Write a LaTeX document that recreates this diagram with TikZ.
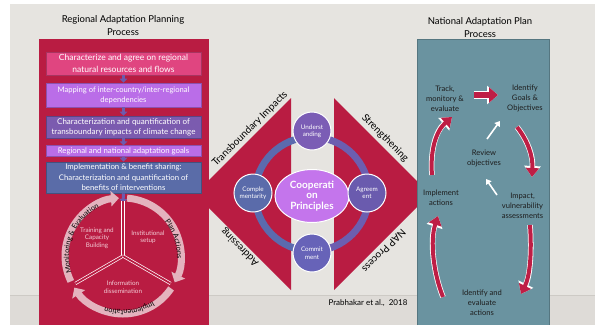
\documentclass[tikz,border=0pt]{standalone}
\usepackage{fontspec}
\setmainfont{Lato}
\usetikzlibrary{shapes.geometric,arrows.meta,decorations.text,calc}
\definecolor{bg}{HTML}{E6E4E0}
\definecolor{bgdark}{HTML}{DEDBD7}
\definecolor{bgline}{HTML}{CDCAC5}
\definecolor{crim}{HTML}{B91C42}
\definecolor{pinkbox}{HTML}{E04580}
\definecolor{lil}{HTML}{BA6DE8}
\definecolor{purp}{HTML}{7B5BAF}
\definecolor{steel}{HTML}{5A6CA8}
\definecolor{teal}{HTML}{6A93A0}
\definecolor{cycpink}{HTML}{E4B3BE}
\definecolor{cyctext}{HTML}{F2CBD5}
\definecolor{ringblue}{HTML}{5B6AAE}
\definecolor{ringpurp}{HTML}{6C5EB0}
\definecolor{arrowpurp}{HTML}{6D5AAE}
\definecolor{rarrow}{HTML}{BE1E45}
\definecolor{coopfill}{HTML}{C475EC}
\definecolor{darktext}{HTML}{1E1E1E}
\definecolor{cundr}{HTML}{7B5DB5}
\definecolor{ccomp}{HTML}{5A6BAA}
\definecolor{cagre}{HTML}{6A5BAE}
\definecolor{ccomm}{HTML}{6763B8}
\begin{document}
\begin{tikzpicture}[x=1pt,y=-1pt,
  lbox/.style={minimum width=155pt, inner sep=0pt, align=center, text=white, draw=#1!75!black, fill=#1, line width=0.6pt},
  circ/.style={circle, draw=white, line width=1pt, minimum size=38pt, inner sep=0pt, align=center, text=white, font=\fontsize{6.3}{7.5}\selectfont},
  ttl/.style={align=center, text=black, font=\fontsize{9.5}{13}\selectfont},
  dlab/.style={text=black, font=\fontsize{10}{12}\selectfont, inner sep=0pt},
  boxarrow/.style={draw=arrowpurp, line width=3pt, -{Triangle[width=7.5pt,length=4pt]}},
  cyc/.style={draw=cycpink, line width=7pt, -{Triangle[width=15pt,length=8pt]}},
  cyclab/.style={align=center, text=cyctext, font=\fontsize{6.3}{7.5}\selectfont},
  spoke/.style={draw=white, line width=0.7pt, double=crim, double distance=1.8pt},
  rtext/.style={align=center, text=darktext, font=\fontsize{7.6}{10}\selectfont},
  rarr/.style={draw=rarrow, line width=4pt, -{Triangle[width=13pt,length=9pt]},
     preaction={draw=white, line width=5.5pt, -{Triangle[width=16pt,length=11pt]}}},
  warr/.style={draw=white, line width=1.6pt, -{Triangle[width=6.5pt,length=5pt]}}
]
\useasboundingbox (0,0) rectangle (595,325);
% background
\fill[white] (0,0) rectangle (595,325);
\fill[bg] (10,4) rectangle (595,325);
\fill[bgdark] (10,295) rectangle (595,325);
\draw[bgline, line width=0.8pt] (10,295) -- (595,295);

% central diamond halves
\fill[crim] (291,98) -- (195,194) -- (291,290) -- cycle;
\fill[crim] (334,98) -- (430,194) -- (334,290) -- cycle;

% left panel
\fill[crim] (39,39) rectangle (209,325);
\node[ttl] (ltitle) at (123,25.5) {Regional Adaptation Planning\\Process};

\node[lbox=pinkbox, minimum height=23pt, font=\fontsize{8.5}{11.5}\selectfont] (b1) at (123.5,63.5) {Characterize and agree on regional\\natural resources and flows};
\node[lbox=lil, minimum height=24pt, font=\fontsize{7.6}{10}\selectfont] (b2) at (123.5,95) {Mapping of inter-country/inter-regional\\dependencies};
\node[lbox=purp, minimum height=22pt, font=\fontsize{8}{10}\selectfont] (b3) at (123.5,127) {Characterization and quantification of\\transboundary impacts of climate change};
\node[lbox=lil, minimum height=10.5pt, font=\fontsize{7.8}{9}\selectfont] (b4) at (123.5,151) {Regional and national adaptation goals};
\node[lbox=steel, minimum height=31pt, font=\fontsize{7.8}{10.5}\selectfont] (b5) at (123.5,177.5) {Implementation \& benefit sharing:\\Characterization and quantification of\\benefits of interventions};

\draw[boxarrow] (b1.south) -- (b2.north);
\draw[boxarrow] (b2.south) -- (b3.north);
\draw[boxarrow] (b3.south) -- (b4.north);
\draw[boxarrow] (b4.south) -- (b5.north);

% cycle
\coordinate (lc) at (123,256);
\coordinate (ctop) at (123,203);
\draw[boxarrow] (b5.south) -- (ctop);
\draw[cyc] ($(lc)+(-86:58)$) arc[start angle=-86, end angle=27, radius=58];
\draw[cyc] ($(lc)+(34:58)$) arc[start angle=34, end angle=147, radius=58];
\draw[cyc] ($(lc)+(154:58)$) arc[start angle=154, end angle=266, radius=58];
\draw[spoke] (lc) -- ($(lc)+(-90:55)$);
\draw[spoke] (lc) -- ($(lc)+(150:55)$);
\draw[spoke] (lc) -- ($(lc)+(30:55)$);
\node[cyclab] (tcb) at (97,238) {Training and\\Capacity\\Building};
\node[cyclab] (ins) at (148,237) {Institutional\\setup};
\node[cyclab] (inf) at (123,287) {Information\\dissemination};
\path[decorate, decoration={text along path, text align=center, text color=black,
  text={|\fontsize{7.2}{8}\selectfont|Monitoring {\&} Evaluation}}]
  ($(lc)+(140:54)$) arc[start angle=140, end angle=266, radius=54];
\path[decorate, decoration={text along path, text align=center, text color=black,
  text={|\fontsize{7.2}{8}\selectfont|Plan Actions}}]
  ($(lc)+(-62:54)$) arc[start angle=-62, end angle=25, radius=54];
\path[decorate, decoration={text along path, text align=center, text color=black,
  text={|\fontsize{7.2}{8}\selectfont|Implementation}}]
  ($(lc)+(38:54)$) arc[start angle=38, end angle=128, radius=54];

% diamond labels
\node[dlab, rotate=45] (tbi) at (250,129) {Transboundary Impacts};
\node[dlab, rotate=-45] (str) at (385,138) {Strengthening};
\node[dlab, rotate=135] (adr) at (240,247) {Addressing};
\node[dlab, rotate=-135] (nap) at (384,251) {NAP Process};

% ring and circles
\draw[ringblue, line width=7pt] ($(312,194)+(90:57)$) arc[start angle=90, end angle=270, radius=57];
\draw[ringpurp, line width=7pt] ($(312,194)+(-90:57)$) arc[start angle=-90, end angle=90, radius=57];
\node[ellipse, fill=coopfill, draw=white, line width=1pt, minimum width=74pt, minimum height=53pt, inner sep=0pt, align=center, text=white, font=\bfseries\fontsize{10}{10.5}\selectfont] (coop) at (312,196) {Cooperati\\on\\Principles};
\node[circ, fill=cundr] (und) at (312,131) {Underst\\anding};
\node[circ, fill=ccomp] (cmp) at (253,193) {Comple\\mentarity};
\node[circ, fill=cagre] (agr) at (367,193) {Agreem\\ent};
\node[circ, fill=ccomm] (cmt) at (312,253) {Commit\\ment};

% right panel
\fill[teal] (417,39) rectangle (549,325);
\draw[teal!80!black, line width=0.6pt] (417,325) -- (417,39) -- (549,39) -- (549,325);
\node[ttl] (rtitle) at (480,27.5) {National Adaptation Plan\\Process};

\node[rtext] (trk) at (445,99) {Track,\\monitory \&\\evaluate};
\node[rtext] (idg) at (525,98) {Identify\\Goals \&\\Objectives};
\node[rtext] (rev) at (484,158) {Review\\objectives};
\node[rtext] (imp) at (441,198) {Implement\\actions};
\node[rtext] (iva) at (522.5,206) {Impact,\\vulnerability\\assessments};
\node[rtext] (iea) at (482,303) {Identify and\\evaluate\\actions};

\coordinate (h1) at (474,95);
\coordinate (h2) at (498,95);
\draw[draw=rarrow, line width=6.5pt, -{Triangle[width=15pt,length=9pt]},
  preaction={draw=white, line width=8pt, -{Triangle[width=18pt,length=11pt]}}] (h1) -- (h2);

\coordinate (a1s) at (517,127);
\coordinate (a1e) at (532,177);
\draw[rarr] (a1s) .. controls (528,141) and (533,156) .. (a1e);
\coordinate (a2s) at (530,225);
\coordinate (a2e) at (521,294);
\draw[rarr] (a2s) .. controls (532,252) and (530,276) .. (a2e);
\coordinate (a3s) at (443,297);
\coordinate (a3e) at (438,216);
\draw[rarr] (a3s) .. controls (433,272) and (430,240) .. (a3e);
\coordinate (a4s) at (432,175);
\coordinate (a4e) at (452,117);
\draw[rarr] (a4s) .. controls (430,150) and (436,131) .. (a4e);

\coordinate (w1s) at (487,139);
\coordinate (w1e) at (500,121);
\draw[warr] (w1s) -- (w1e);
\coordinate (w2s) at (497,195);
\coordinate (w2e) at (486,179);
\draw[warr] (w2s) -- (w2e);

\node[text=black, font=\fontsize{8}{10}\selectfont] (cite) at (368,303) {Prabhakar et al.,\ \ 2018};
\end{tikzpicture}
\end{document}
